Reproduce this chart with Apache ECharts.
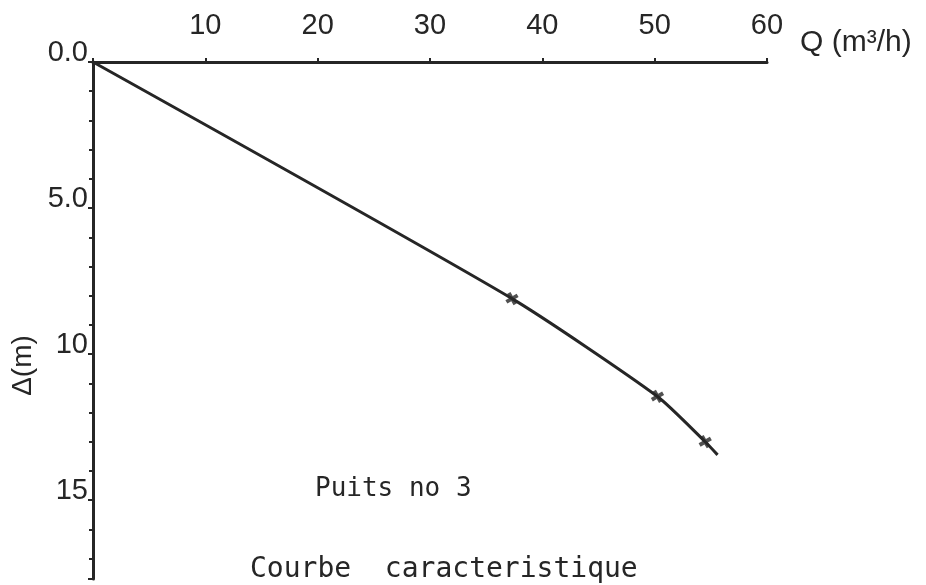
<!DOCTYPE html>
<html><head><meta charset="utf-8">
<script src="https://cdn.jsdelivr.net/npm/echarts@6/dist/echarts.min.js"></script>
<style>html,body{margin:0;padding:0;background:#fff}#c{width:926px;height:585px}</style>
</head><body><div id="c"></div>
<script>
// Courbe caractéristique, puits no 3
const curveQ = [0, 37.3, 50.25, 54.5, 55.6];
const curveD = [0, 8.1, 11.45, 13.0, 13.45];
const measQ = [37.3, 50.25, 54.5];
const measD = [8.1, 11.45, 13.0];
const xTicks = [10, 20, 30, 40, 50, 60];
const yTickLabels = {0: '0.0', 5: '5.0', 10: '10', 15: '15'};

const ink = '#262626';
const font = 'Liberation Sans, DejaVu Sans, sans-serif';
const textFont = 'DejaVu Sans Mono, monospace';
const chart = echarts.init(document.getElementById('c'), null, {renderer: 'canvas'});
chart.setOption({
  backgroundColor: '#fff',
  animation: false,
  grid: {left: 93, top: 62, width: 674, height: 517},
  xAxis: {
    type: 'value', position: 'top', min: 0, max: 60, interval: 10,
    name: 'Q (m³/h)', nameLocation: 'end', nameGap: 33,
    nameTextStyle: {fontSize: 30, color: ink, fontFamily: font, verticalAlign: 'bottom', padding: [0, 0, 4, 0]},
    axisLine: {show: true, lineStyle: {color: ink, width: 3}},
    axisTick: {show: true, length: 4, lineStyle: {color: ink, width: 2}},
    axisLabel: {margin: 22, fontSize: 29, color: ink, fontFamily: font,
      formatter: v => (xTicks.indexOf(v) >= 0 ? String(v) : '')},
    splitLine: {show: false}
  },
  yAxis: {
    type: 'value', inverse: true, min: 0, max: 17.7, interval: 5,
    name: 'Δ(m)', nameLocation: 'middle', nameGap: 48, nameRotate: 90,
    nameTextStyle: {fontSize: 28, color: ink, fontFamily: font, padding: [0, 90, 0, 0]},
    axisLine: {show: true, lineStyle: {color: ink, width: 3}},
    axisTick: {show: true, length: 5, lineStyle: {color: ink, width: 2}},
    minorTick: {show: true, splitNumber: 5, length: 4, lineStyle: {color: ink, width: 2}},
    axisLabel: {margin: 5, fontSize: 29, lineHeight: 18, color: ink, fontFamily: font,
      verticalAlign: 'bottom', showMaxLabel: false,
      formatter: v => (yTickLabels[v] !== undefined ? yTickLabels[v] : '')},
    splitLine: {show: false}
  },
  series: [
    {
      type: 'line', smooth: 0.2, symbol: 'none',
      data: curveQ.map((q, i) => [q, curveD[i]]),
      lineStyle: {color: ink, width: 3}
    },
    {
      type: 'scatter',
      data: measQ.map((q, i) => [q, measD[i]]),
      symbol: 'path://M3.5,0H6.5V3.5H10V6.5H6.5V10H3.5V6.5H0V3.5H3.5Z',
      symbolSize: 13, symbolRotate: 30,
      itemStyle: {color: ink}
    }
  ],
  graphic: [
    {type: 'text', left: 315, top: 476,
      style: {text: 'Puits no 3', fontSize: 26, fill: ink, fontFamily: textFont}},
    {type: 'text', left: 250, top: 556,
      style: {text: 'Courbe  caracteristique', fontSize: 28, fill: ink, fontFamily: textFont}}
  ]
});
</script></body></html>
